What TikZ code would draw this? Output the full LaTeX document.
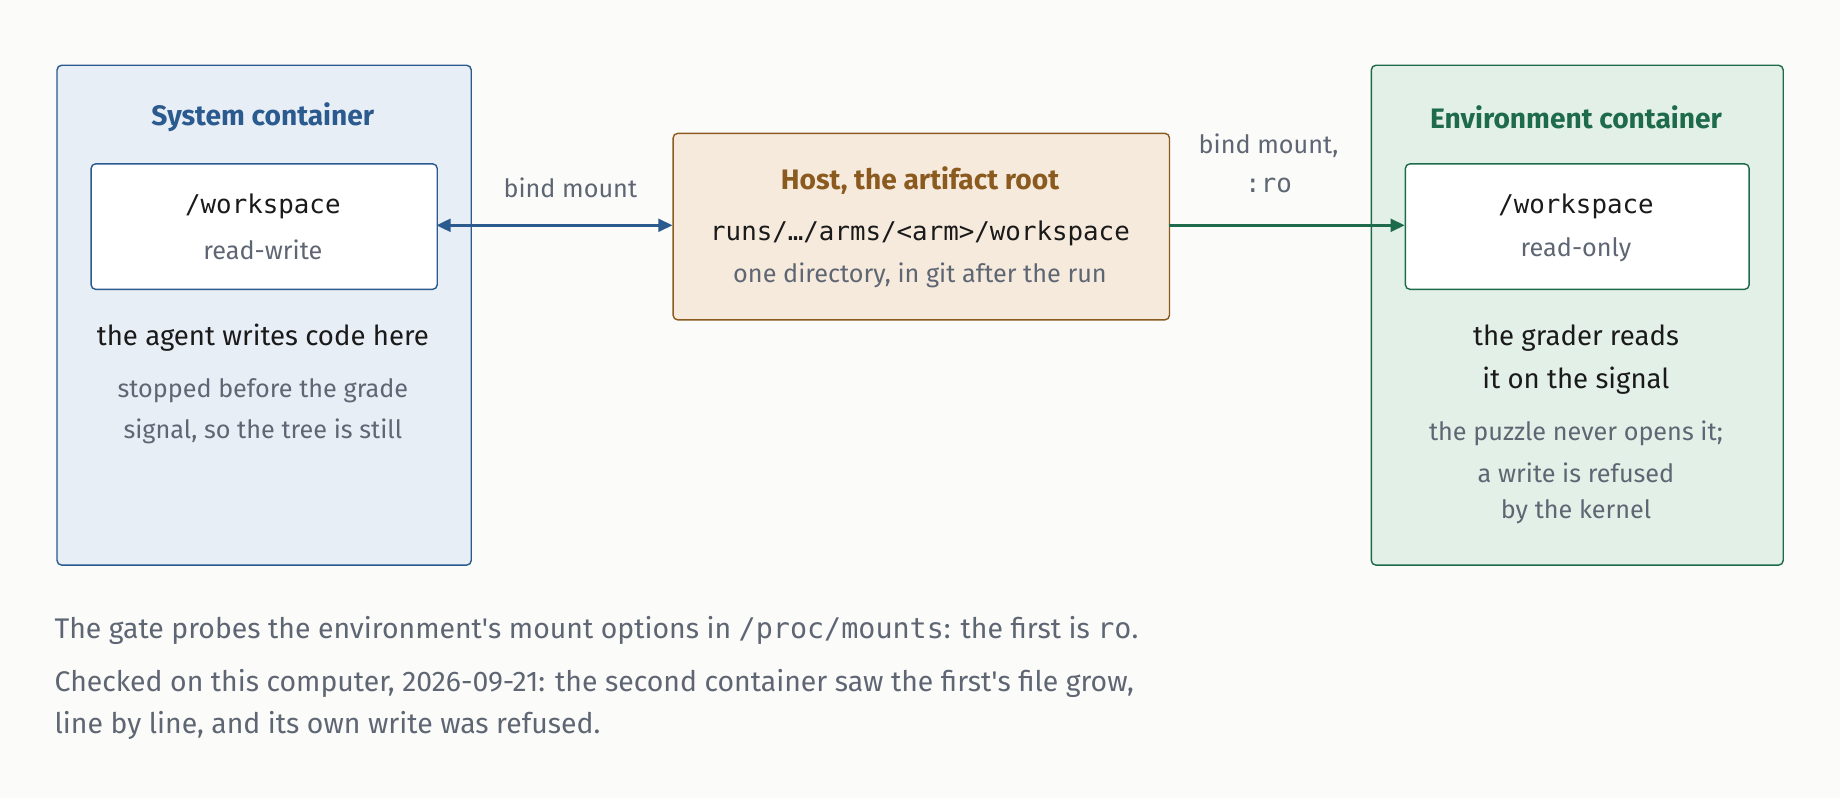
\documentclass[tikz,border=0pt]{standalone}
\usepackage{fontspec}
\setmainfont{Fira Sans}
\setmonofont{DejaVu Sans Mono}
\usetikzlibrary{arrows.meta}
\definecolor{bg}{HTML}{FBFBF9}
\definecolor{bl}{HTML}{2B5A8F}\definecolor{blf}{HTML}{E8EEF6}
\definecolor{br}{HTML}{8A5A1F}\definecolor{brf}{HTML}{F6EADD}
\definecolor{gr}{HTML}{1E6B4B}\definecolor{grf}{HTML}{E3F0E8}
\definecolor{gy}{HTML}{5F6673}\definecolor{ink}{HTML}{1A1A1A}
\begin{document}
\begin{tikzpicture}[x=1pt,y=-1pt,
 box/.style={draw,rounded corners=4pt,line width=1.2pt},
 t/.style={font=\fontsize{23.5}{28}\selectfont,text=ink},
 g/.style={font=\fontsize{21.5}{26}\selectfont,text=gy},
 m/.style={font=\fontsize{22}{26}\selectfont\ttfamily,text=ink},
 h/.style={font=\fontsize{24}{28}\selectfont\bfseries},
 bt/.style={anchor=west,text=gy,font=\fontsize{24.2}{28}\selectfont},
 arr/.style={line width=2.2pt,-{Triangle[length=12pt,width=11pt]}}]
\fill[bg] (0,0) rectangle (1568,680);
\useasboundingbox (0,0) rectangle (1568,680);
% left
\node[box,draw=bl,fill=blf,minimum width=353,minimum height=426,anchor=north west] (sys) at (48,55) {};
\node[h,text=bl] (syst) at (224,100) {System container};
\node[box,draw=bl,fill=white,minimum width=295,minimum height=107,anchor=north west] (sw) at (77,139) {};
\node[m] (sw1) at (224,176) {/workspace};
\node[g] (sw2) at (224,213) {read-write};
\node[t] (s1) at (224,288) {the agent writes code here};
\node[g] (s2) at (224,333) {stopped before the grade};
\node[g] (s3) at (224,368) {signal, so the tree is still};
% host
\node[box,draw=br,fill=brf,minimum width=423,minimum height=159,anchor=north west] (host) at (573,113) {};
\node[h,text=br] (ht) at (784,154) {Host, the artifact root};
\node[m] (h1) at (784,199) {runs/…/arms/<arm>/workspace};
\node[g] (h2) at (784,235) {one directory, in git after the run};
% right
\node[box,draw=gr,fill=grf,minimum width=351,minimum height=426,anchor=north west] (env) at (1168,55) {};
\node[h,text=gr] (et) at (1343,100) {Environment container};
\node[box,draw=gr,fill=white,minimum width=293,minimum height=107,anchor=north west] (ew) at (1197,139) {};
\node[m] (ew1) at (1343,176) {/workspace};
\node[g] (ew2) at (1343,213) {read-only};
\node[t] (e1) at (1343,288) {the grader reads};
\node[t] (e2) at (1343,324) {it on the signal};
\node[g] (e3) at (1343,369) {the puzzle never opens it;};
\node[g] (e4) at (1343,403) {a write is refused};
\node[g] (e5) at (1343,436) {by the kernel};
% arrows
\coordinate (la) at (372,192); \coordinate (lb) at (573,192);
\coordinate (ra) at (996,192); \coordinate (rb) at (1197,192);
\draw[arr,{Triangle[length=12pt,width=11pt]}-{Triangle[length=12pt,width=11pt]},bl] (la) -- (lb);
\draw[arr,gr] (ra) -- (rb);
\node[g] (l1) at (486,160) {bind mount};
\node[g] (l2) at (1081,124) {bind mount,};
\node[m,text=gy] (l3) at (1081,158) {:ro};
% bottom
\node[bt] (b1) at (43,537) {The gate probes the environment\textquotesingle s mount options in \texttt{/proc/mounts}: the first is \texttt{ro}.};
\node[bt] (b2) at (43,582) {Checked on this computer, 2026-09-21: the second container saw the first\textquotesingle s file grow,};
\node[bt] (b3) at (43,618) {line by line, and its own write was refused.};
\end{tikzpicture}
\end{document}
